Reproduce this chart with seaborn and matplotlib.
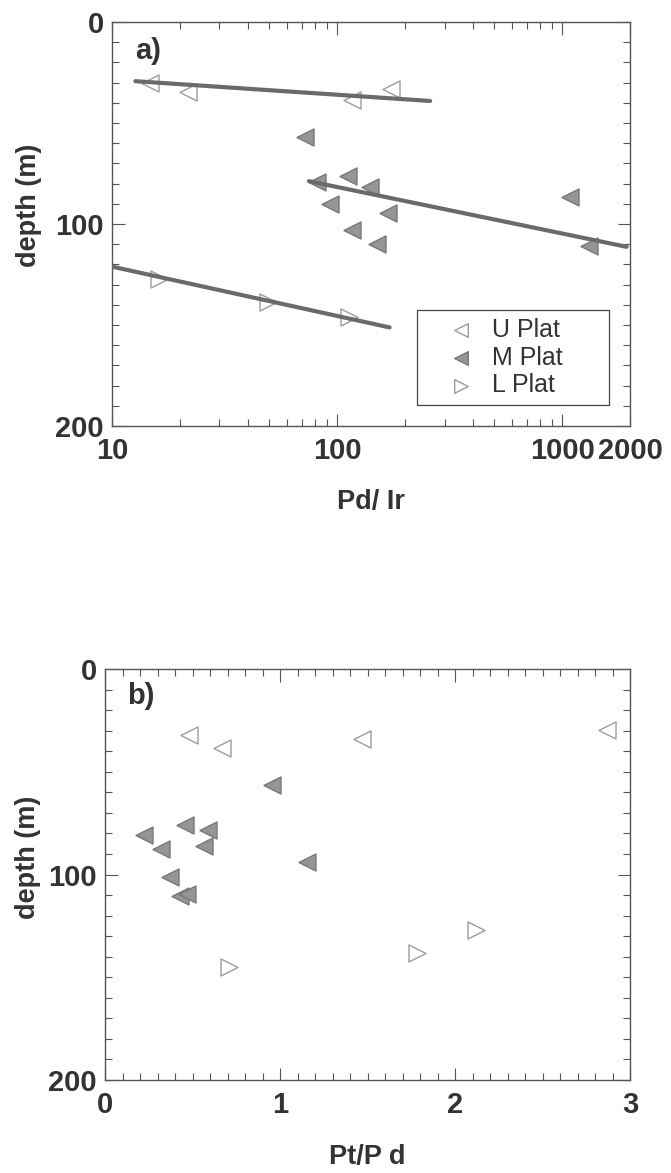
import numpy as np
import pandas as pd
import matplotlib
matplotlib.use("Agg")
import matplotlib.pyplot as plt
import seaborn as sns
from matplotlib.ticker import FixedLocator, FixedFormatter, NullFormatter, MultipleLocator, LogLocator

# ---------------- data ----------------
groups = ["U Plat", "M Plat", "L Plat"]

# panel a : Pd/Ir vs depth
u_pdir = [14.8, 174, 21.8, 116]
u_depth_a = [30.0, 33.0, 34.6, 38.7]
m_pdir = [72.3, 81.1, 112, 140, 93.3, 168, 116, 150, 1084, 1318]
m_depth_a = [56.9, 79.1, 76.3, 81.6, 89.9, 94.8, 103.0, 110.0, 86.6, 111.0]
l_pdir = [16.2, 49.4, 113.5]
l_depth_a = [127.0, 138.5, 146.0]

# fitted trend lines (end points) in panel a
u_fit_x = [12.7, 259]
u_fit_depth = [29.3, 39.1]
m_fit_x = [75, 1933]
m_fit_depth = [78.8, 111.3]
l_fit_x = [10.1, 171]
l_fit_depth = [121.2, 151.2]

# panel b : Pt/Pd vs depth
u_ptpd = [2.87, 0.48, 1.47, 0.67]
u_depth_b = [29.8, 32.3, 34.2, 38.4]
m_ptpd = [0.956, 0.225, 0.455, 0.587, 0.320, 0.567, 1.156, 0.369, 0.428, 0.469]
m_depth_b = [56.5, 80.8, 76.0, 78.3, 87.8, 86.1, 94.1, 101.1, 110.3, 109.3]
l_ptpd = [2.12, 1.78, 0.709]
l_depth_b = [126.8, 138.0, 144.9]

a_xticks = [10, 100, 1000, 2000]
a_xticklabels = ["10", "100", "1000", "2000"]
b_xticks = [0, 1, 2, 3]
b_xticklabels = ["0", "1", "2", "3"]
yticks = [0, 100, 200]
yticklabels = ["0", "100", "200"]

# ---------------- style ----------------
sns.set_style("ticks")
plt.rcParams["font.family"] = ["Liberation Sans", "DejaVu Sans"]

styles = {
    "U Plat": dict(marker="<", facecolor="white", edgecolor="#9c9c9c"),
    "M Plat": dict(marker="<", facecolor="#959595", edgecolor="#787878"),
    "L Plat": dict(marker=">", facecolor="white", edgecolor="#9c9c9c"),
}
line_color = "#6a6a6a"
spine_color = "#555555"
text_color = "#333333"

fig = plt.figure(figsize=(6.71, 11.73), dpi=100)
ax_a = fig.add_axes([112 / 671, 1 - 426 / 1173, 518 / 671, 404 / 1173])
ax_b = fig.add_axes([105 / 671, 1 - 1080 / 1173, 525 / 671, 411 / 1173])

ax_a.set_xscale("log")

def scatter_group(ax, x, y, name, size=150):
    st = styles[name]
    df = pd.DataFrame({"x": x, "y": y})
    sns.scatterplot(data=df, x="x", y="y", ax=ax, marker=st["marker"], s=size,
                    color=st["facecolor"], edgecolor=st["edgecolor"], linewidth=1.0,
                    label=name, zorder=3)

scatter_group(ax_a, u_pdir, u_depth_a, "U Plat")
scatter_group(ax_a, m_pdir, m_depth_a, "M Plat")
scatter_group(ax_a, l_pdir, l_depth_a, "L Plat")

for fx, fy in [(u_fit_x, u_fit_depth), (m_fit_x, m_fit_depth), (l_fit_x, l_fit_depth)]:
    sns.lineplot(x=fx, y=fy, ax=ax_a, color=line_color, linewidth=3.0, zorder=4,
                 legend=False, estimator=None, sort=False)

scatter_group(ax_b, u_ptpd, u_depth_b, "U Plat")
scatter_group(ax_b, m_ptpd, m_depth_b, "M Plat")
scatter_group(ax_b, l_ptpd, l_depth_b, "L Plat")

# ---------------- axes formatting ----------------
tick_size = 21
label_font = dict(fontsize=19.5, fontweight="bold", color=text_color)

for ax in (ax_a, ax_b):
    ax.set_ylim(200, 0)
    ax.yaxis.set_major_locator(FixedLocator(yticks))
    ax.yaxis.set_major_formatter(FixedFormatter(yticklabels))
    ax.yaxis.set_minor_locator(MultipleLocator(10))
    for sp in ax.spines.values():
        sp.set_visible(True)
        sp.set_color(spine_color)
        sp.set_linewidth(1.0)
    ax.tick_params(which="both", direction="in", top=True, right=True,
                   color=spine_color, width=0.8)
    ax.tick_params(which="major", length=9)
    ax.tick_params(which="minor", length=5)
    ax.tick_params(axis="x", which="major", pad=8)
    ax.tick_params(axis="y", which="major", pad=6)
    ax.set_ylabel("depth (m)", **label_font)

ax_a.set_xlim(10, 2000)
ax_a.xaxis.set_major_locator(FixedLocator(a_xticks))
ax_a.xaxis.set_major_formatter(FixedFormatter(a_xticklabels))
ax_a.xaxis.set_minor_locator(LogLocator(base=10, subs=np.arange(2, 10)))
ax_a.xaxis.set_minor_formatter(NullFormatter())
ax_a.set_xlabel("Pd/ Ir", labelpad=17, **label_font)

ax_b.set_xlim(0, 3)
ax_b.xaxis.set_major_locator(FixedLocator(b_xticks))
ax_b.xaxis.set_major_formatter(FixedFormatter(b_xticklabels))
ax_b.xaxis.set_minor_locator(MultipleLocator(0.1))
ax_b.set_xlabel("Pt/P d", labelpad=18, **label_font)

for ax in (ax_a, ax_b):
    for lbl in ax.get_xticklabels() + ax.get_yticklabels():
        lbl.set_fontsize(tick_size)
        lbl.set_fontweight("bold")
        lbl.set_color(text_color)

ax_a.yaxis.set_label_coords(-0.135, 0.547)
ax_b.yaxis.set_label_coords(-0.122, 0.543)

ax_a.text(0.044, 0.963, "a)", transform=ax_a.transAxes, ha="left", va="top",
          fontsize=21, fontweight="bold", color=text_color)
ax_b.text(0.042, 0.968, "b)", transform=ax_b.transAxes, ha="left", va="top",
          fontsize=21, fontweight="bold", color=text_color)

leg = ax_a.legend(loc="lower left", bbox_to_anchor=(0.589, 0.052, 0.370, 0.23),
                  mode="expand", borderaxespad=0,
                  frameon=True, fancybox=False, framealpha=1, edgecolor="#444444",
                  prop={"size": 18, "weight": "normal"}, markerscale=0.8,
                  handlelength=2.9, handletextpad=-0.2, labelspacing=0.15,
                  borderpad=0.3)
leg.get_frame().set_linewidth(0.9)
for t in leg.get_texts():
    t.set_color(text_color)

if ax_b.get_legend() is not None:
    ax_b.get_legend().remove()

fig.savefig("out.png", dpi=100)
